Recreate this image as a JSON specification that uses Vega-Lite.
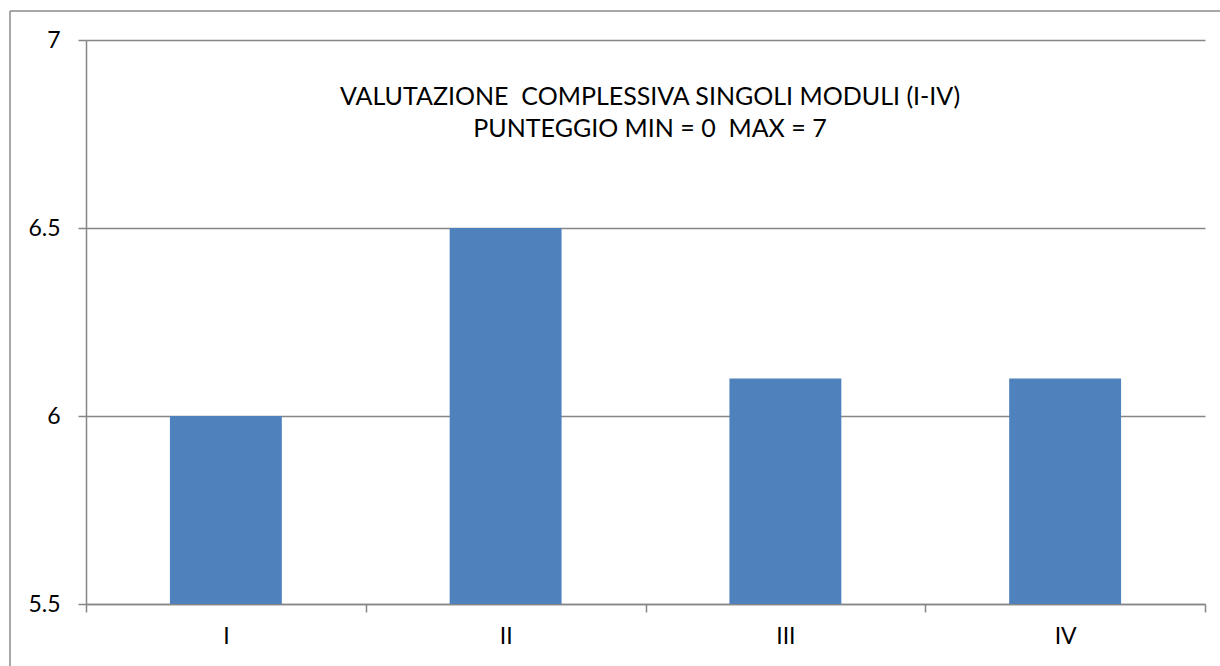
{
  "$schema": "https://vega.github.io/schema/vega-lite/v6.json",
  "width": 1210,
  "height": 655,
  "padding": {"left": 10, "top": 11, "right": 0, "bottom": 0},
  "autosize": {"type": "none"},
  "background": "white",
  "title": {
    "text": ["VALUTAZIONE\u00a0\u00a0COMPLESSIVA SINGOLI MODULI (I-IV)", "PUNTEGGIO MIN = 0\u00a0\u00a0MAX = 7"],
    "anchor": "middle",
    "frame": "group",
    "dx": 35,
    "offset": -131,
    "baseline": "top",
    "font": "Lato",
    "fontSize": 25,
    "fontWeight": "normal",
    "color": "#000000",
    "lineHeight": 32.5
  },
  "data": {
    "values": [
      {"modulo": "I", "valutazione": 6.0},
      {"modulo": "II", "valutazione": 6.5},
      {"modulo": "III", "valutazione": 6.1},
      {"modulo": "IV", "valutazione": 6.1}
    ]
  },
  "mark": {"type": "bar", "color": "#4F81BD", "width": {"band": 0.4}},
  "encoding": {
    "x": {
      "field": "modulo",
      "type": "nominal",
      "sort": ["I", "II", "III", "IV"],
      "scale": {"range": [76, 1195], "paddingInner": 0, "paddingOuter": 0},
      "axis": {
        "title": null,
        "orient": "bottom",
        "offset": -62,
        "labelAngle": 0,
        "tickBand": "extent",
        "tickSize": 8,
        "labelPadding": 13,
        "grid": false
      }
    },
    "y": {
      "field": "valutazione",
      "type": "quantitative",
      "scale": {"domain": [5.5, 7], "range": [593, 29], "zero": false, "nice": false},
      "axis": {
        "title": null,
        "orient": "left",
        "offset": -76,
        "values": [5.5, 6, 6.5, 7],
        "format": "~g",
        "tickSize": 8,
        "labelPadding": 18,
        "grid": true
      }
    },
    "y2": {"datum": 5.5}
  },
  "config": {
    "view": {"stroke": "#8c8c8c", "strokeWidth": 1.5, "strokeDash": [1210, 1865, 655, 0]},
    "axis": {
      "domainColor": "#868686",
      "domainWidth": 1.5,
      "tickColor": "#868686",
      "tickWidth": 1.5,
      "gridColor": "#868686",
      "gridWidth": 1.5,
      "gridOpacity": 1,
      "labelFont": "Lato",
      "labelFontSize": 23,
      "labelColor": "#000000"
    }
  }
}
